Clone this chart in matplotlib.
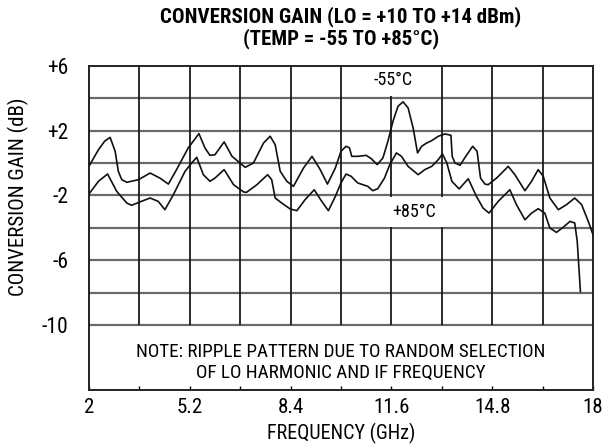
import numpy as np
import matplotlib
matplotlib.use("Agg")
import matplotlib.pyplot as plt
from matplotlib import font_manager

# conversion gain vs frequency, two temperatures
freq_cold = [2.0, 2.3, 2.5, 2.67, 2.83, 2.93, 3.04, 3.2, 3.57, 3.94, 4.25, 4.52, 4.78,
             5.15, 5.49, 5.68, 5.84, 6.0, 6.29, 6.54, 6.96, 7.22, 7.54, 7.75, 7.91,
             8.07, 8.28, 8.49, 8.81, 9.08, 9.34, 9.57, 9.82, 10.0, 10.16, 10.27, 10.34,
             10.53, 10.8, 10.96, 11.15, 11.33, 11.49, 11.65, 11.81, 11.97, 12.13, 12.29,
             12.43, 12.56, 12.72, 12.88, 13.09, 13.3, 13.49, 13.53, 13.62, 13.78, 13.94,
             14.18, 14.32, 14.43, 14.57, 14.67, 14.94, 15.31, 15.52, 15.84, 16.05, 16.26,
             16.42, 16.63, 16.9, 17.16, 17.42, 17.64, 17.85, 18.0]
gain_cold = [-0.2, 0.82, 1.35, 1.58, 0.72, -0.51, -1.03, -1.19, -1.03, -0.62, -0.93, -1.3, -0.41,
             0.93, 1.81, 0.93, 0.47, 0.51, 1.30, 0.41, -0.27, 0.0, 1.23, 1.65, 1.13,
             -0.51, -1.13, -1.44, -0.31, 0.41, -0.41, -1.30, -0.31, 0.72, 1.03, 0.93, 0.41,
             0.41, 0.47, 0.27, -0.1, 0.31, 1.34, 2.57, 3.5, 3.77, 3.4, 2.16,
             0.62, 1.03, 1.23, 1.38, 1.65, 1.79, 1.71, 0.41, 0.0, -0.14, 0.35,
             1.03, 0.72, -0.93, -1.30, -1.34, -0.93, -0.21, -0.72, -1.71, -1.13, -0.41,
             -0.82, -2.16, -2.88, -2.57, -2.16, -2.57, -3.6, -4.42]

freq_hot = [2.0, 2.3, 2.59, 2.88, 3.2, 3.35, 3.62, 3.94, 4.2, 4.41, 4.68, 5.05, 5.26,
            5.42, 5.63, 5.84, 6.0, 6.29, 6.59, 6.91, 7.0, 7.33, 7.67, 7.8, 7.91, 8.12,
            8.39, 8.6, 8.86, 9.15, 9.39, 9.6, 9.82, 10.0, 10.16, 10.32, 10.53, 10.85,
            11.01, 11.17, 11.38, 11.55, 11.76, 11.92, 12.13, 12.45, 12.66, 12.88, 13.09,
            13.22, 13.36, 13.52, 13.75, 14.04, 14.3, 14.51, 14.7, 14.99, 15.36, 15.57,
            15.84, 16.05, 16.26, 16.47, 16.63, 16.84, 17.05, 17.27, 17.42, 17.5, 17.56, 17.6]
gain_hot = [-1.91, -1.13, -0.68, -1.75, -2.47, -2.61, -2.4, -2.16, -2.37, -2.88, -1.95, -0.51, 0.0,
            0.35, -0.72, -1.13, -0.93, -0.41, -1.34, -1.79, -1.81, -1.34, -0.72, -1.03, -2.16, -2.47,
            -2.84, -2.94, -2.26, -1.65, -2.37, -2.94, -2.06, -1.23, -0.68, -0.82, -1.23, -1.44,
            -1.71, -1.58, -0.93, -0.1, 0.62, 0.41, -0.21, -0.72, -0.41, -0.21, 0.21,
            0.56, 0.0, -1.13, -1.6, -0.97, -2.06, -2.78, -3.09, -2.37, -1.65, -2.57,
            -3.5, -3.09, -2.82, -3.09, -4.01, -4.28, -3.97, -3.6, -3.7, -4.84, -6.69, -7.92]

x_major = [2, 5.2, 8.4, 11.6, 14.8, 18]
x_labels = ["2", "5.2", "8.4", "11.6", "14.8", "18"]
x_grid = [3.6, 5.2, 6.8, 8.4, 10.0, 11.6, 13.2, 14.8, 16.4]
y_major = [6, 2, -2, -6, -10]
y_labels = ["+6", "+2", "-2", "-6", "-10"]
y_grid = [4, 2, 0, -2, -4, -6, -8, -10]

# narrow sans if there is one, the datasheet uses a condensed helvetica
fonts = font_manager.fontManager.ttflist
names = {f.name for f in fonts}
cond = None
for n in ["Liberation Sans Narrow", "Roboto Condensed", "Open Sans Condensed", "Noto Sans Condensed"]:
    if n in names:
        cond = n
        break
if cond is None:
    narrow = [f for f in fonts if str(f.stretch) in ("condensed", "semi-condensed", "extra-condensed", "75", "87.5")]
    if narrow:
        cond = narrow[0].name
        plt.rcParams["font.stretch"] = narrow[0].stretch
    else:
        cond = "Roboto"
plt.rcParams["font.family"] = [cond, "DejaVu Sans"]

fig = plt.figure(figsize=(6.05, 4.47), dpi=100)
ax = fig.add_axes([89 / 605, 1 - 390 / 447, 504 / 605, 324.3 / 447])
ax.set_xlim(2, 18)
ax.set_ylim(-14, 6)

ax.hlines(y_grid, 2, 18, colors="#6a6a6a", lw=1.6, zorder=1)
ax.vlines(x_grid, -10, 6, colors="#1a1a1a", lw=1.3, zorder=1)

ax.plot(freq_cold, gain_cold, color="#111111", lw=1.2, zorder=3, solid_joinstyle="round")
ax.plot(freq_hot, gain_hot, color="#111111", lw=1.2, zorder=3, solid_joinstyle="round")

ax.text(11.65, 5.1, "-55°C", ha="center", va="center", fontsize=13, zorder=2,
        bbox=dict(fc="white", ec="none", pad=5))
ax.text(12.33, -3.02, "+85°C", ha="center", va="center", fontsize=13, zorder=2,
        bbox=dict(fc="white", ec="none", pad=4.5))

ax.text(10, -11.65, "NOTE: RIPPLE PATTERN DUE TO RANDOM SELECTION", ha="center", va="center", fontsize=13.8)
ax.text(10, -12.95, "OF LO HARMONIC AND IF FREQUENCY", ha="center", va="center", fontsize=13.8)

ax.set_xticks(x_major)
ax.set_xticklabels(x_labels)
ax.set_xticks([v for v in x_grid if v not in x_major], minor=True)
ax.tick_params(axis="x", which="both", direction="in", length=3, width=1, pad=6, labelsize=15)
ax.set_yticks(y_major)
ax.set_yticklabels(y_labels)
ax.tick_params(axis="y", length=0, pad=15, labelsize=15.5)
for s in ax.spines.values():
    s.set_linewidth(1.4)
    s.set_color("#222222")

fig.text(341 / 605, 1 - 17 / 447, "CONVERSION GAIN (LO = +10 TO +14 dBm)", ha="center", va="center",
         fontsize=15, fontweight="bold")
fig.text(341 / 605, 1 - 39 / 447, "(TEMP = -55 TO +85°C)", ha="center", va="center",
         fontsize=15, fontweight="bold")
fig.text(18 / 605, 1 - 197 / 447, "CONVERSION GAIN (dB)", ha="center", va="center",
         rotation=90, fontsize=15)
fig.text(341 / 605, 1 - 433 / 447, "FREQUENCY (GHz)", ha="center", va="center", fontsize=14.5)

fig.savefig("out.png", dpi=100)
